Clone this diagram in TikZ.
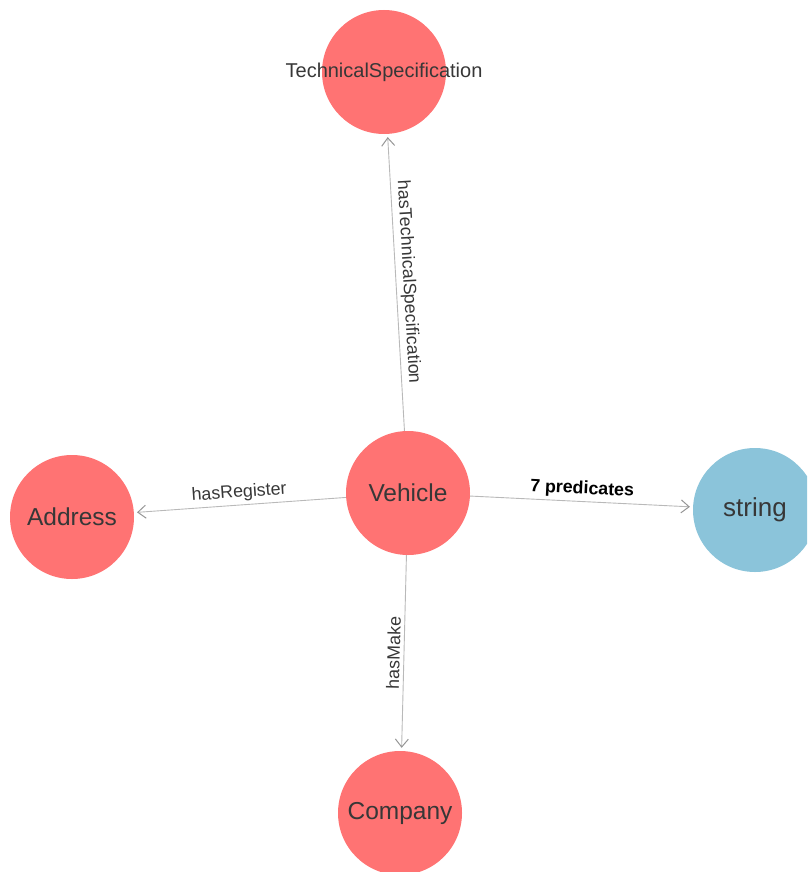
\documentclass[tikz,border=0pt]{standalone}
\usepackage{fontspec}
\setmainfont{Liberation Sans}
\usetikzlibrary{arrows.meta}
\definecolor{classred}{RGB}{255,115,115}
\definecolor{litblue}{RGB}{139,196,218}
\definecolor{edgegray}{RGB}{185,185,185}
\definecolor{tipgray}{RGB}{150,150,150}
\definecolor{txtgray}{RGB}{55,55,55}
\tikzset{
  entity/.style={circle, fill=classred, minimum size=124pt, inner sep=0pt},
  literal/.style={circle, fill=litblue, minimum size=124pt, inner sep=0pt},
  nodetext/.style={font=\fontsize{24.5}{28}\selectfont, text=txtgray},
  rel/.style={draw=edgegray, line width=0.9pt, shorten >=3pt,
    -{Straight Barb[length=8pt,width=13pt,line width=1pt,color=tipgray]}},
  rellabel/.style={midway, sloped, above, inner sep=3.5pt,
    font=\fontsize{17.8}{20}\selectfont, text=txtgray}
}
\begin{document}
\begin{tikzpicture}[x=1pt,y=-1pt]
  \useasboundingbox (0,0) rectangle (807,872);
  \clip (0,0) rectangle (807,872);

  % class and datatype nodes
  \node[entity, label={[nodetext, font=\fontsize{20}{22}\selectfont]center:TechnicalSpecification}] (tech) at (384,72) {};
  \node[entity, label={[nodetext]center:Vehicle}] (vehicle) at (408,493) {};
  \node[entity, label={[nodetext]center:Address}] (address) at (72,517) {};
  \node[literal, label={[nodetext, font=\fontsize{26}{30}\selectfont]center:string}] (string) at (755,510) {};
  \node[entity, label={[nodetext]center:Company}] (company) at (400,813) {};

  % properties
  \draw[rel] (vehicle) -- node[rellabel] {hasTechnicalSpecification} (tech);
  \draw[rel] (vehicle) -- node[rellabel] {hasRegister} (address);
  \draw[rel] (vehicle) -- node[rellabel, font=\fontsize{17.8}{20}\selectfont\bfseries, text=black] {7 predicates} (string);
  \draw[rel] (vehicle) -- node[rellabel] {hasMake} (company);
\end{tikzpicture}
\end{document}
